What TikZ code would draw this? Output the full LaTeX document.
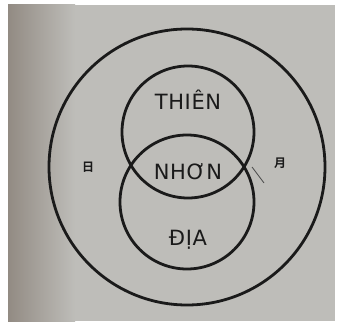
\documentclass[tikz,border=0pt]{standalone}
\usepackage{fontspec}
\setmainfont{DejaVu Sans}
\newfontfamily\cjk{Noto Sans CJK SC}[BoldFont={Noto Sans CJK SC Bold}]
\usetikzlibrary{positioning}
\definecolor{paper}{HTML}{BEBDB9}
\definecolor{edge}{HTML}{928B83}
\definecolor{ink}{HTML}{1A1A1A}

\begin{document}
\begin{tikzpicture}[
    x=1pt, y=1pt,
    ring/.style={draw=ink, circle, line width=2.8pt, inner sep=0pt},
    word/.style={text=ink, font=\fontsize{21}{21}\selectfont\addfontfeature{LetterSpace=3}},
    sign/.style={text=ink, font=\cjk\bfseries\fontsize{12}{12}\selectfont},
]
\useasboundingbox (0,0) rectangle (337,324);
\fill[white] (0,0) rectangle (337,324);
\fill[paper] (8,3) rectangle (335,319);
\shade[left color=edge, right color=paper] (8,3) rectangle (75,319);

% three rings
\node[ring, minimum size=276pt] (outer) at (187,157) {};
\node[ring, minimum size=132pt] (heaven) at (188,192) {};
\node[ring, minimum size=134pt] (earth) at (187,122) {};

% labels
\node[word] (thien) at (188,224) {THIÊN};
\node[word] (nhon) at (188,152) {NHƠN};
\node[word] (dia) at (188,84) {ĐỊA};
\node[sign] (sun) at (88,157) {日};
\node[sign] (moon) at (280,161) {月};

% small stray stroke by the right crossing
\coordinate (tailA) at (252,157);
\coordinate (tailB) at (264,141);
\draw[ink!80, line width=0.8pt] (tailA) -- (tailB);
\end{tikzpicture}
\end{document}
